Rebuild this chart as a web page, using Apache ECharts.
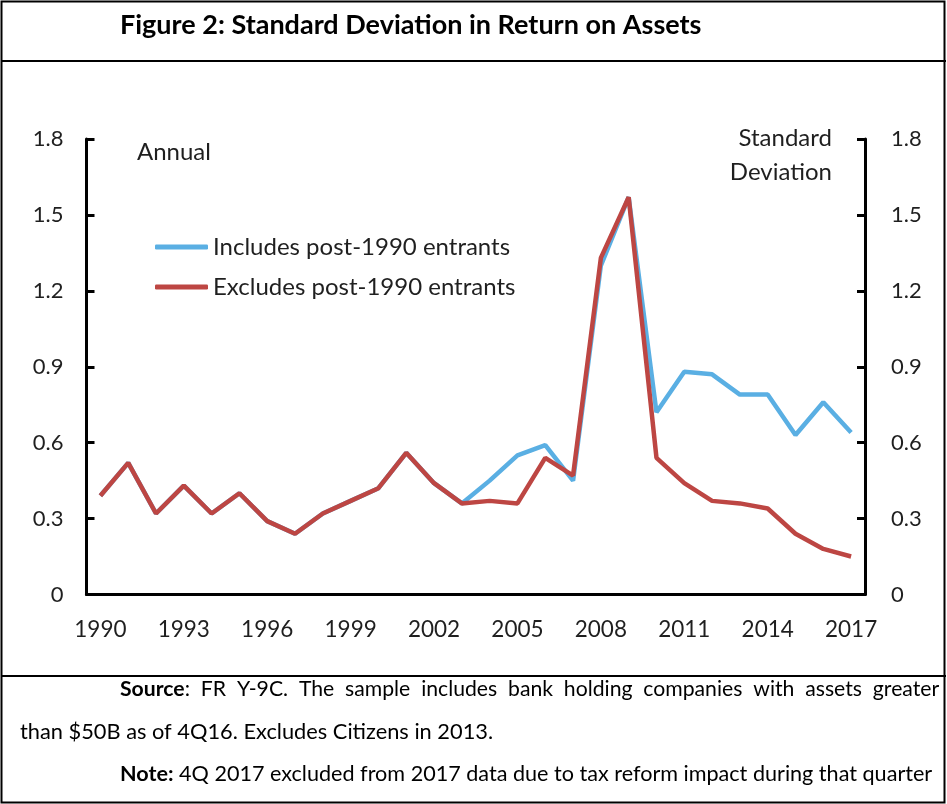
<!DOCTYPE html>
<html>
<head>
<meta charset="utf-8">
<title>Figure 2: Standard Deviation in Return on Assets</title>
<script src="https://cdn.jsdelivr.net/npm/echarts@6/dist/echarts.min.js"></script>
<style>
  html, body { margin: 0; padding: 0; background: #fff; }
  #chart { width: 947px; height: 804px; }
</style>
</head>
<body>
<div id="chart"></div>
<script>
// years on the x axis
var years = [];
for (var y = 1990; y <= 2017; y++) years.push(String(y));

var includesEntrants = [0.39, 0.52, 0.32, 0.43, 0.32, 0.40, 0.29, 0.24, 0.32, 0.37,
  0.42, 0.56, 0.44, 0.36, 0.45, 0.55, 0.59, 0.45, 1.30, 1.57,
  0.72, 0.88, 0.87, 0.79, 0.79, 0.63, 0.76, 0.64];
var excludesEntrants = [0.39, 0.52, 0.32, 0.43, 0.32, 0.40, 0.29, 0.24, 0.32, 0.37,
  0.42, 0.56, 0.44, 0.36, 0.37, 0.36, 0.54, 0.47, 1.33, 1.57,
  0.54, 0.44, 0.37, 0.36, 0.34, 0.24, 0.18, 0.15];

var seriesNames = ['Includes post-1990 entrants', 'Excludes post-1990 entrants'];
var titleText = 'Figure 2: Standard Deviation in Return on Assets';

var FONT = 'Lato, "Open Sans", sans-serif';
var TEXT = '#1f1f1f';

var chart = echarts.init(document.getElementById('chart'));

// same look on both value axes
function valueAxis(pos) {
  return {
    type: 'value',
    position: pos,
    min: 0,
    max: 1.8,
    interval: 0.3,
    splitLine: { show: false },
    axisLine: { show: true, lineStyle: { color: '#000', width: 3 } },
    axisTick: { show: true, inside: true, length: 8, lineStyle: { color: '#000', width: 3 } },
    axisLabel: {
      margin: pos === 'left' ? 23 : 26,
      color: TEXT, fontFamily: FONT, fontSize: 22,
      formatter: function (v) { return v === 0 ? '0' : v.toFixed(1); }
    }
  };
}

function boldRich(size) {
  return { b: { fontWeight: 'bold', fontSize: size, fontFamily: FONT, fill: '#000' } };
}

var option = {
  animation: false,
  backgroundColor: '#fff',
  textStyle: { fontFamily: FONT },
  grid: { left: 86.5, right: 82, top: 139, bottom: 209.5 },
  legend: {
    orient: 'vertical',
    left: 150,
    top: 230,
    itemWidth: 53,
    itemHeight: 5,
    itemGap: 16,
    icon: 'roundRect',
    data: seriesNames,
    textStyle: { color: TEXT, fontFamily: FONT, fontSize: 24, lineHeight: 24 }
  },
  xAxis: {
    type: 'category',
    data: years,
    boundaryGap: true,
    axisLine: { lineStyle: { color: '#000', width: 3 } },
    axisTick: { interval: 2, length: 8, lineStyle: { color: '#000', width: 3 } },
    axisLabel: { interval: 2, margin: 24, color: TEXT, fontFamily: FONT, fontSize: 22.5 }
  },
  yAxis: [valueAxis('left'), valueAxis('right')],
  series: [
    {
      name: seriesNames[0],
      type: 'line',
      data: includesEntrants,
      symbol: 'none',
      color: '#5aafe3',
      lineStyle: { width: 4.5, color: '#5aafe3' },
      z: 2
    },
    {
      name: seriesNames[1],
      type: 'line',
      data: excludesEntrants,
      symbol: 'none',
      color: '#bd4643',
      lineStyle: { width: 4.5, color: '#bd4643' },
      z: 3
    }
  ],
  graphic: [
    // frame of the figure
    { type: 'rect', shape: { x: 1.5, y: 1.5, width: 943, height: 801 },
      style: { fill: null, stroke: '#000', lineWidth: 2 }, silent: true },
    { type: 'line', shape: { x1: 1, y1: 61, x2: 946, y2: 61 },
      style: { stroke: '#000', lineWidth: 2 }, silent: true },
    { type: 'line', shape: { x1: 1, y1: 676, x2: 946, y2: 676 },
      style: { stroke: '#000', lineWidth: 2 }, silent: true },
    { type: 'text', left: 120, top: 12,
      style: { text: titleText, fill: '#000', font: 'bold 27px ' + FONT } },
    // labels inside the plot
    { type: 'text', left: 137, top: 140,
      style: { text: 'Annual', fill: TEXT, font: '24px ' + FONT } },
    { type: 'text', x: 832, y: 138,
      style: { text: 'Standard', fill: TEXT, font: '24px ' + FONT, align: 'right', verticalAlign: 'middle' } },
    { type: 'text', x: 832, y: 172,
      style: { text: 'Deviation', fill: TEXT, font: '24px ' + FONT, align: 'right', verticalAlign: 'middle' } },
    // notes under the chart (double spaces stand in for the justified first line)
    { type: 'text', left: 120, top: 679,
      style: {
        text: '{b|Source}:  FR  Y-9C.  The  sample  includes  bank  holding  companies  with  assets  greater',
        fill: '#000', font: '21.2px ' + FONT, rich: boldRich(21.2)
      } },
    { type: 'text', left: 20, top: 721,
      style: { text: 'than $50B as of 4Q16. Excludes Citizens in 2013.', fill: '#000', font: '21.8px ' + FONT } },
    { type: 'text', left: 120, top: 763,
      style: {
        text: '{b|Note:} 4Q 2017 excluded from 2017 data due to tax reform impact during that quarter',
        fill: '#000', font: '21.6px ' + FONT, rich: boldRich(21.6)
      } }
  ]
};

chart.setOption(option);
</script>
</body>
</html>
